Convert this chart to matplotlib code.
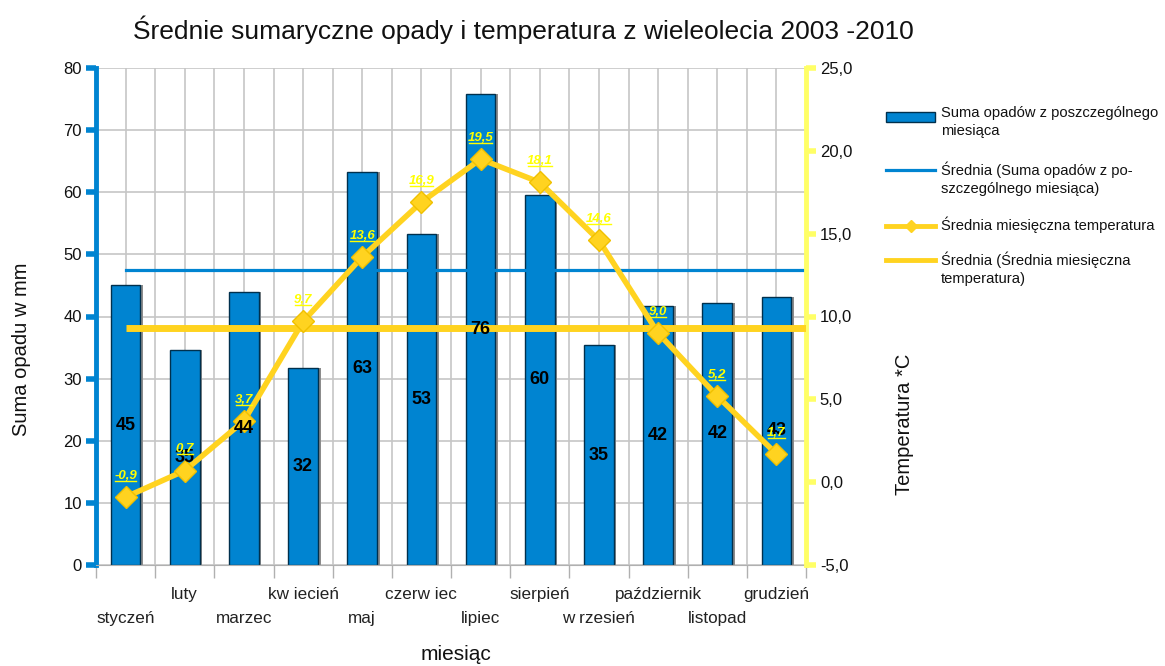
import matplotlib
matplotlib.use('Agg')
import matplotlib.pyplot as plt
import numpy as np
from matplotlib.lines import Line2D
from matplotlib.patches import Rectangle

months = ['styczeń', 'luty', 'marzec', 'kw iecień', 'maj', 'czerw iec', 'lipiec',
          'sierpień', 'w rzesień', 'październik', 'listopad', 'grudzień']
precip = [45.0, 34.6, 43.9, 31.7, 63.3, 53.3, 75.8, 59.6, 35.4, 41.7, 42.2, 43.2]
temp = [-0.9, 0.7, 3.7, 9.7, 13.6, 16.9, 19.5, 18.1, 14.6, 9.0, 5.2, 1.7]
left_ticks = [0, 10, 20, 30, 40, 50, 60, 70, 80]
right_ticks = [-5, 0, 5, 10, 15, 20, 25]

title = 'Średnie sumaryczne opady i temperatura z wieleolecia 2003 -2010'
legend_labels = ['Suma opadów z poszczególnego\nmiesiąca',
                 'Średnia (Suma opadów z po-\nszczególnego miesiąca)',
                 'Średnia miesięczna temperatura',
                 'Średnia (Średnia miesięczna\ntemperatura)']

BLUE = '#0084d1'
YEL = '#ffd320'
LIGHTYEL = '#ffff66'
LABYEL = '#ffff00'
GRID = '#c6c6c6'

plt.rcParams['font.family'] = ['Liberation Sans', 'DejaVu Sans']

W, H = 1165, 666
fig = plt.figure(figsize=(W / 100, H / 100), dpi=100)
ax = fig.add_axes([96 / W, 1 - 565 / H, 710 / W, 497 / H])
x = np.arange(len(months))
ax.set_xlim(-0.5, len(months) - 0.5)
ax.set_ylim(left_ticks[0], left_ticks[-1])

# grid
for v in np.arange(-0.5, len(months), 0.5):
    ax.axvline(v, color=GRID, lw=1.2, zorder=0)
ax.set_yticks(left_ticks)
ax.yaxis.grid(True, color=GRID, lw=1.2, zorder=0)
ax.set_axisbelow(True)

# bars with shadow
ax.bar(x + 0.045, precip, width=0.5, color='#8c8c8c', zorder=1)
ax.bar(x, precip, width=0.5, color=BLUE, edgecolor='#00304d', lw=1.0, zorder=2)
mean_p = np.mean(precip)
ax.plot([x[0], ax.get_xlim()[1]], [mean_p, mean_p], color=BLUE, lw=2.3, zorder=3)

ax.set_yticklabels([str(t) for t in left_ticks])
ax.tick_params(axis='y', direction='out', length=7, width=4, color=BLUE,
               labelsize=12, pad=3, labelcolor='#111111')
ax.set_xticks(np.arange(-0.5, len(months), 1.0))
ax.set_xticklabels([])
ax.tick_params(axis='x', direction='out', length=9, width=1, color='#b0b0b0')
for s in ['top', 'right']:
    ax.spines[s].set_visible(False)
ax.spines['bottom'].set_color('#b0b0b0')
ax.spines['left'].set_color(BLUE)
ax.spines['left'].set_linewidth(3.5)

# secondary axis
ax2 = ax.twinx()
ax2.set_ylim(right_ticks[0], right_ticks[-1])
ax2.set_yticks(right_ticks)
ax2.set_yticklabels([f'{t:.1f}'.replace('.', ',') for t in right_ticks])
ax2.tick_params(axis='y', direction='out', length=7, width=4, color=LIGHTYEL,
                labelsize=12, pad=3, labelcolor='#111111')
for s in ['top', 'left', 'bottom']:
    ax2.spines[s].set_visible(False)
ax2.spines['right'].set_color(LIGHTYEL)
ax2.spines['right'].set_linewidth(3.5)

mean_t = np.mean(temp)
ax2.plot([x[0], ax.get_xlim()[1]], [mean_t, mean_t], color=YEL, lw=5, zorder=3,
         solid_capstyle='butt')
ax2.plot(x, temp, color=YEL, lw=4, marker='D', markersize=11,
         markerfacecolor=YEL, markeredgecolor='#f0c000', zorder=4)

# bar value labels (above lines)
for xi, p in zip(x, precip):
    ax2.text(xi, p / 2, f'{p:.0f}', transform=ax.transData, ha='center', va='center',
             fontsize=13, fontweight='bold', color='black', zorder=6)

# temperature labels
tlabels = []
for xi, t in zip(x, temp):
    txt = ax2.annotate(f'{t:.1f}'.replace('.', ','), (xi, t), xytext=(0, 11),
                       textcoords='offset points', ha='center', va='bottom',
                       fontsize=9.5, fontstyle='italic', fontweight='bold',
                       color=LABYEL, zorder=7)
    tlabels.append(txt)

# month labels (staggered)
for i, m in enumerate(months):
    yy = -0.107 if i % 2 == 0 else -0.060
    ax.text(x[i], yy, m, transform=ax.get_xaxis_transform(), ha='center', va='center',
            fontsize=12.3, color='#222222')

fig.text(523 / W, 1 - 30 / H, title, ha='center', va='center', fontsize=19,
         color='#111111')
fig.text(22 / W, 1 - 349 / H, 'Suma opadu w mm', rotation=90, ha='center', va='center',
         fontsize=14.5, color='#111111')
fig.text(905 / W, 1 - 424 / H, 'Temperatura *C', rotation=90, ha='center', va='center',
         fontsize=14.5, color='#111111')
fig.text(456 / W, 1 - 655 / H, 'miesiąc', ha='center', va='center', fontsize=15,
         color='#111111')


# legend (manual layout)
def fx(px):
    return px / W


def fy(py):
    return 1 - py / H


hx0, hx1, tx = 886, 935, 941
fig.add_artist(Rectangle((fx(hx0), fy(122)), fx(hx1) - fx(hx0), fy(112) - fy(122),
                         facecolor=BLUE, edgecolor='#00304d', lw=1.0,
                         transform=fig.transFigure))
fig.add_artist(Line2D([fx(hx0), fx(hx1)], [fy(170), fy(170)], color=BLUE, lw=2.3))
fig.add_artist(Line2D([fx(hx0), fx(hx1)], [fy(226), fy(226)], color=YEL, lw=3.5))
fig.add_artist(Line2D([fx((hx0 + hx1) / 2)], [fy(226)], color=YEL, marker='D',
                      markersize=6, lw=0))
fig.add_artist(Line2D([fx(hx0), fx(hx1)], [fy(260), fy(260)], color=YEL, lw=3.5))
for lab, ycen in zip(legend_labels, [115, 170, 226, 260]):
    fig.text(fx(tx), fy(ycen - 9), lab, ha='left', va='top', fontsize=10.6,
             color='#111111', linespacing=1.4)

fig.canvas.draw()
r = fig.canvas.get_renderer()
inv = fig.transFigure.inverted()

# underline temperature labels
for txt in tlabels:
    bb = txt.get_window_extent(r)
    (x0, y0), (x1, _) = inv.transform([(bb.x0 + 1, bb.y0 + 1), (bb.x1 - 1, bb.y0 + 1)])
    fig.add_artist(Line2D([x0, x1], [y0, y0], color=LABYEL, lw=1.0, zorder=8))

fig.savefig('out.png', dpi=100)
